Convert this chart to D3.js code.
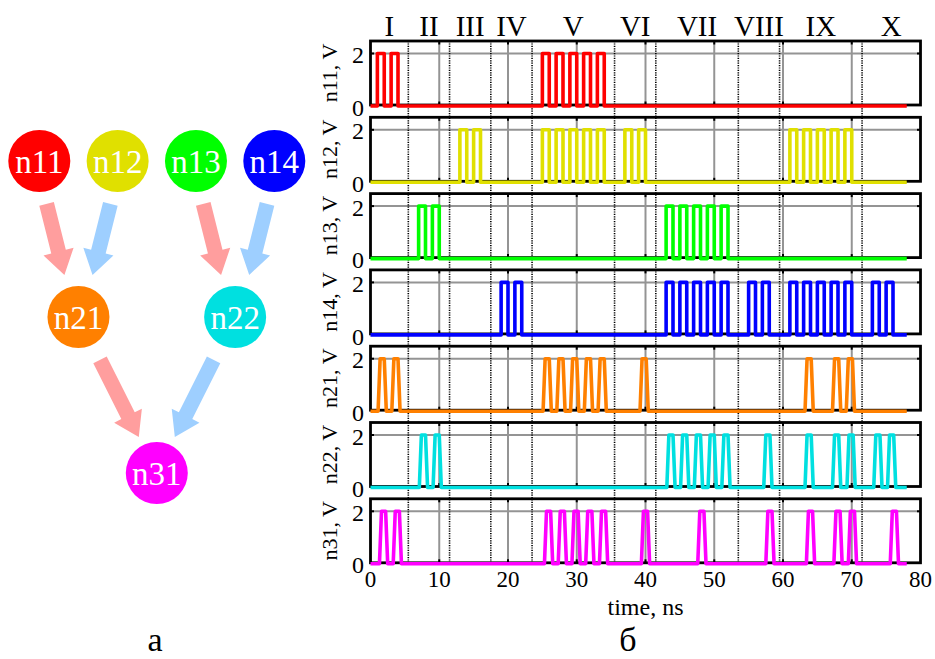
<!DOCTYPE html>
<html>
<head>
<meta charset="utf-8">
<script src="https://cdn.jsdelivr.net/npm/d3@7"></script>
<style>
  body { margin: 0; background: #fff; }
  svg { display: block; }
  text { font-family: "Liberation Serif", "Times New Roman", serif; }
</style>
</head>
<body>
<svg id="chart" width="935" height="659"></svg>
<script>
// ---- data ----
const signalNames = ["n11", "n12", "n13", "n14", "n21", "n22", "n31"];
const signalColors = ["#ff0000", "#e0e000", "#00ff00", "#0000ff", "#ff8000", "#00e0e0", "#ff00ff"];

// pulse start times, ns (inputs are 1 ns square pulses, outputs are short spikes)
const n11Pulses = [1, 3, 25, 27, 29, 31, 33];
const n12Pulses = [13, 15, 25, 27, 29, 31, 33, 37, 39, 61, 63, 65, 67, 69];
const n13Pulses = [7, 9, 43, 45, 47, 49, 51];
const n14Pulses = [19, 21, 43, 45, 47, 49, 51, 55, 57, 61, 63, 65, 67, 69, 73, 75];
const n21Spikes = [1.1, 3.1, 25.1, 27.1, 29.1, 31.1, 33.1, 39.2, 63.2, 67.2, 69.2];
const n22Spikes = [7.1, 9.1, 43.1, 45.1, 47.1, 49.1, 51.1, 57.2, 63.2, 67.2, 69.3, 73.2, 75.2];
const n31Spikes = [1.3, 3.3, 25.3, 27.3, 29.3, 31.3, 33.3, 39.4, 47.6, 57.5, 63.4, 67.4, 69.5, 75.6];

const pulseHigh = 2;   // V
const traceEnd = 78;   // ns

const sectionBounds = [5.5, 11.5, 17.5, 23.5, 35.5, 41.5, 53.5, 59.5, 71.5];
const sectionNames = ["I", "II", "III", "IV", "V", "VI", "VII", "VIII", "IX", "X"];
const xTicks = [0, 10, 20, 30, 40, 50, 60, 70, 80];
const yTicks = [0, 2];

// network diagram
const nodeLinks = [["n11", "n21"], ["n12", "n21"], ["n13", "n22"], ["n14", "n22"], ["n21", "n31"], ["n22", "n31"]];
const arrowColors = ["#ff9e9e", "#9ecfff"];

// ---- layout ----
const svg = d3.select("#chart");
const plotL = 370.5, plotR = 920.5;
const panelTop0 = 41, panelStep = 76.3, panelH = 64;
const font = "'Liberation Serif','Times New Roman',serif";

const x = d3.scaleLinear().domain([0, 80]).range([plotL, plotR]);

const signals = [
  { pulses: n11Pulses, kind: "in" },
  { pulses: n12Pulses, kind: "in" },
  { pulses: n13Pulses, kind: "in" },
  { pulses: n14Pulses, kind: "in" },
  { pulses: n21Spikes, kind: "out" },
  { pulses: n22Spikes, kind: "out" },
  { pulses: n31Spikes, kind: "out" }
];

function waveform(pulses, kind) {
  var pts = [[0, 0]];
  pulses.forEach(function(s) {
    if (kind === "in") {
      pts.push([s, 0], [s, pulseHigh], [s + 1, pulseHigh], [s + 1, 0]);
    } else {
      pts.push([s, 0], [s + 0.3, pulseHigh], [s + 0.9, pulseHigh], [s + 1.2, 0]);
    }
  });
  pts.push([traceEnd, 0]);
  return pts;
}

// section separators (dotted) span all panels
const lastBottom = panelTop0 + panelStep * (signalNames.length - 1) + panelH;

signalNames.forEach(function(name, i) {
  const top = panelTop0 + i * panelStep;
  const y = d3.scaleLinear().domain([0, pulseHigh]).range([top + 65, top + 12.5]);
  const g = svg.append("g").attr("class", "panel");

  // grid
  g.selectAll(".vgrid").data(xTicks.slice(1, -1)).enter().append("line")
    .attr("x1", d => x(d)).attr("x2", d => x(d))
    .attr("y1", top).attr("y2", top + panelH)
    .attr("stroke", "#949494").attr("stroke-width", 2);
  g.append("line")
    .attr("x1", plotL).attr("x2", plotR)
    .attr("y1", y(2)).attr("y2", y(2))
    .attr("stroke", "#949494").attr("stroke-width", 2);

  // small black ticks
  xTicks.slice(1, -1).forEach(function(t) {
    g.append("line").attr("x1", x(t)).attr("x2", x(t)).attr("y1", top).attr("y2", top + 3.5)
      .attr("stroke", "#000").attr("stroke-width", 2);
    g.append("line").attr("x1", x(t)).attr("x2", x(t)).attr("y1", top + panelH - 3.5).attr("y2", top + panelH)
      .attr("stroke", "#000").attr("stroke-width", 2);
  });
  g.append("line").attr("x1", plotL).attr("x2", plotL + 3.5).attr("y1", y(2)).attr("y2", y(2))
    .attr("stroke", "#000").attr("stroke-width", 2);
  g.append("line").attr("x1", plotR - 3.5).attr("x2", plotR).attr("y1", y(2)).attr("y2", y(2))
    .attr("stroke", "#000").attr("stroke-width", 2);

  // frame
  g.append("rect")
    .attr("x", plotL).attr("y", top)
    .attr("width", plotR - plotL).attr("height", panelH)
    .attr("fill", "none").attr("stroke", "#000").attr("stroke-width", 2.8);

  // y tick labels
  g.selectAll(".ytl").data(yTicks).enter().append("text")
    .attr("x", 364).attr("y", d => y(d)).attr("dy", "0.4em")
    .attr("text-anchor", "end")
    .style("font-size", "24px").style("font-family", font)
    .text(d => d);

  // y label
  g.append("text")
    .attr("transform", "translate(337," + (top + panelH / 2) + ") rotate(-90)")
    .attr("text-anchor", "middle")
    .style("font-size", "22px").style("font-family", font)
    .text(name + ", V");

  signals[i].y = y;
});

// dotted section lines
svg.selectAll(".sep").data(sectionBounds).enter().append("line")
  .attr("x1", d => x(d)).attr("x2", d => x(d))
  .attr("y1", panelTop0).attr("y2", lastBottom)
  .attr("stroke", "#000").attr("stroke-width", 1.6)
  .attr("stroke-dasharray", "1.2,1.2");

// traces
signals.forEach(function(sig, i) {
  const line = d3.line().x(d => x(d[0])).y(d => sig.y(d[1]));
  svg.append("path")
    .attr("d", line(waveform(sig.pulses, sig.kind)))
    .attr("fill", "none")
    .attr("stroke", signalColors[i])
    .attr("stroke-width", 3.6)
    .attr("stroke-linejoin", "round");
});

// section names
const edges = [0].concat(sectionBounds, [80]);
svg.selectAll(".sec").data(sectionNames).enter().append("text")
  .attr("x", (d, i) => x((edges[i] + edges[i + 1]) / 2))
  .attr("y", 36)
  .attr("text-anchor", "middle")
  .style("font-size", "29px").style("font-family", font)
  .text(d => d);

// x axis
svg.selectAll(".xtl").data(xTicks).enter().append("text")
  .attr("x", d => x(d)).attr("y", 587)
  .attr("text-anchor", "middle")
  .style("font-size", "23px").style("font-family", font)
  .text(d => d);
svg.append("text")
  .attr("x", (plotL + plotR) / 2).attr("y", 615)
  .attr("text-anchor", "middle")
  .style("font-size", "24px").style("font-family", font)
  .text("time, ns");

// ---- network diagram ----
const layerOf = n => +n[1];
const layerY = d3.scaleLinear().domain([1, 3]).range([161, 473]);
const firstLayer = signalNames.filter(n => layerOf(n) === 1);
const layer1X = d3.scalePoint().domain(firstLayer).range([39.3, 274.3]);

const pos = {};
firstLayer.forEach(n => pos[n] = { x: layer1X(n), y: layerY(1) });
[2, 3].forEach(function(L) {
  signalNames.filter(n => layerOf(n) === L).forEach(function(n) {
    const kids = nodeLinks.filter(l => l[1] === n).map(l => pos[l[0]]);
    pos[n] = { x: d3.mean(kids, k => k.x), y: layerY(L) };
  });
});

function arrowPath(T, P) {
  const w = 15, hw = 31, hl = 24;
  const len = Math.hypot(P[0] - T[0], P[1] - T[1]);
  const u = [(P[0] - T[0]) / len, (P[1] - T[1]) / len];
  const n = [-u[1], u[0]];
  const B = [P[0] - u[0] * hl, P[1] - u[1] * hl];
  const pts = [
    [T[0] + n[0] * w / 2, T[1] + n[1] * w / 2],
    [B[0] + n[0] * w / 2, B[1] + n[1] * w / 2],
    [B[0] + n[0] * hw / 2, B[1] + n[1] * hw / 2],
    P,
    [B[0] - n[0] * hw / 2, B[1] - n[1] * hw / 2],
    [B[0] - n[0] * w / 2, B[1] - n[1] * w / 2],
    [T[0] - n[0] * w / 2, T[1] - n[1] * w / 2]
  ];
  return d3.line()(pts) + "Z";
}

const arrows = svg.append("g").attr("id", "arrows");
nodeLinks.forEach(function(l) {
  const s = pos[l[0]], t = pos[l[1]];
  const top = layerOf(l[0]) === 1;
  const f0 = 0.275, f1 = top ? 0.73 : 0.77;
  const shift = top ? Math.sign(s.x - t.x) * 3.5 : 0;
  const T = [s.x + (t.x - s.x) * f0 + shift, s.y + (t.y - s.y) * f0];
  const P = [s.x + (t.x - s.x) * f1 + shift, s.y + (t.y - s.y) * f1];
  const sib = nodeLinks.filter(k => k[1] === l[1]).indexOf(l);
  arrows.append("path").attr("d", arrowPath(T, P)).attr("fill", arrowColors[sib]);
});

const nodes = svg.append("g").attr("id", "nodes");
signalNames.forEach(function(n, i) {
  nodes.append("circle").attr("cx", pos[n].x).attr("cy", pos[n].y).attr("r", 31)
    .attr("fill", signalColors[i]);
  nodes.append("text").attr("x", pos[n].x).attr("y", pos[n].y).attr("dy", "0.35em")
    .attr("text-anchor", "middle").attr("fill", "#fff")
    .style("font-size", "33px").style("font-family", font)
    .text(n);
});

// panel letters
svg.append("text").attr("x", 155).attr("y", 651).attr("text-anchor", "middle")
  .style("font-size", "34px").style("font-family", font).text("а");
svg.append("text").attr("x", 628).attr("y", 651).attr("text-anchor", "middle")
  .style("font-size", "34px").style("font-family", font).text("б");
</script>
</body>
</html>
